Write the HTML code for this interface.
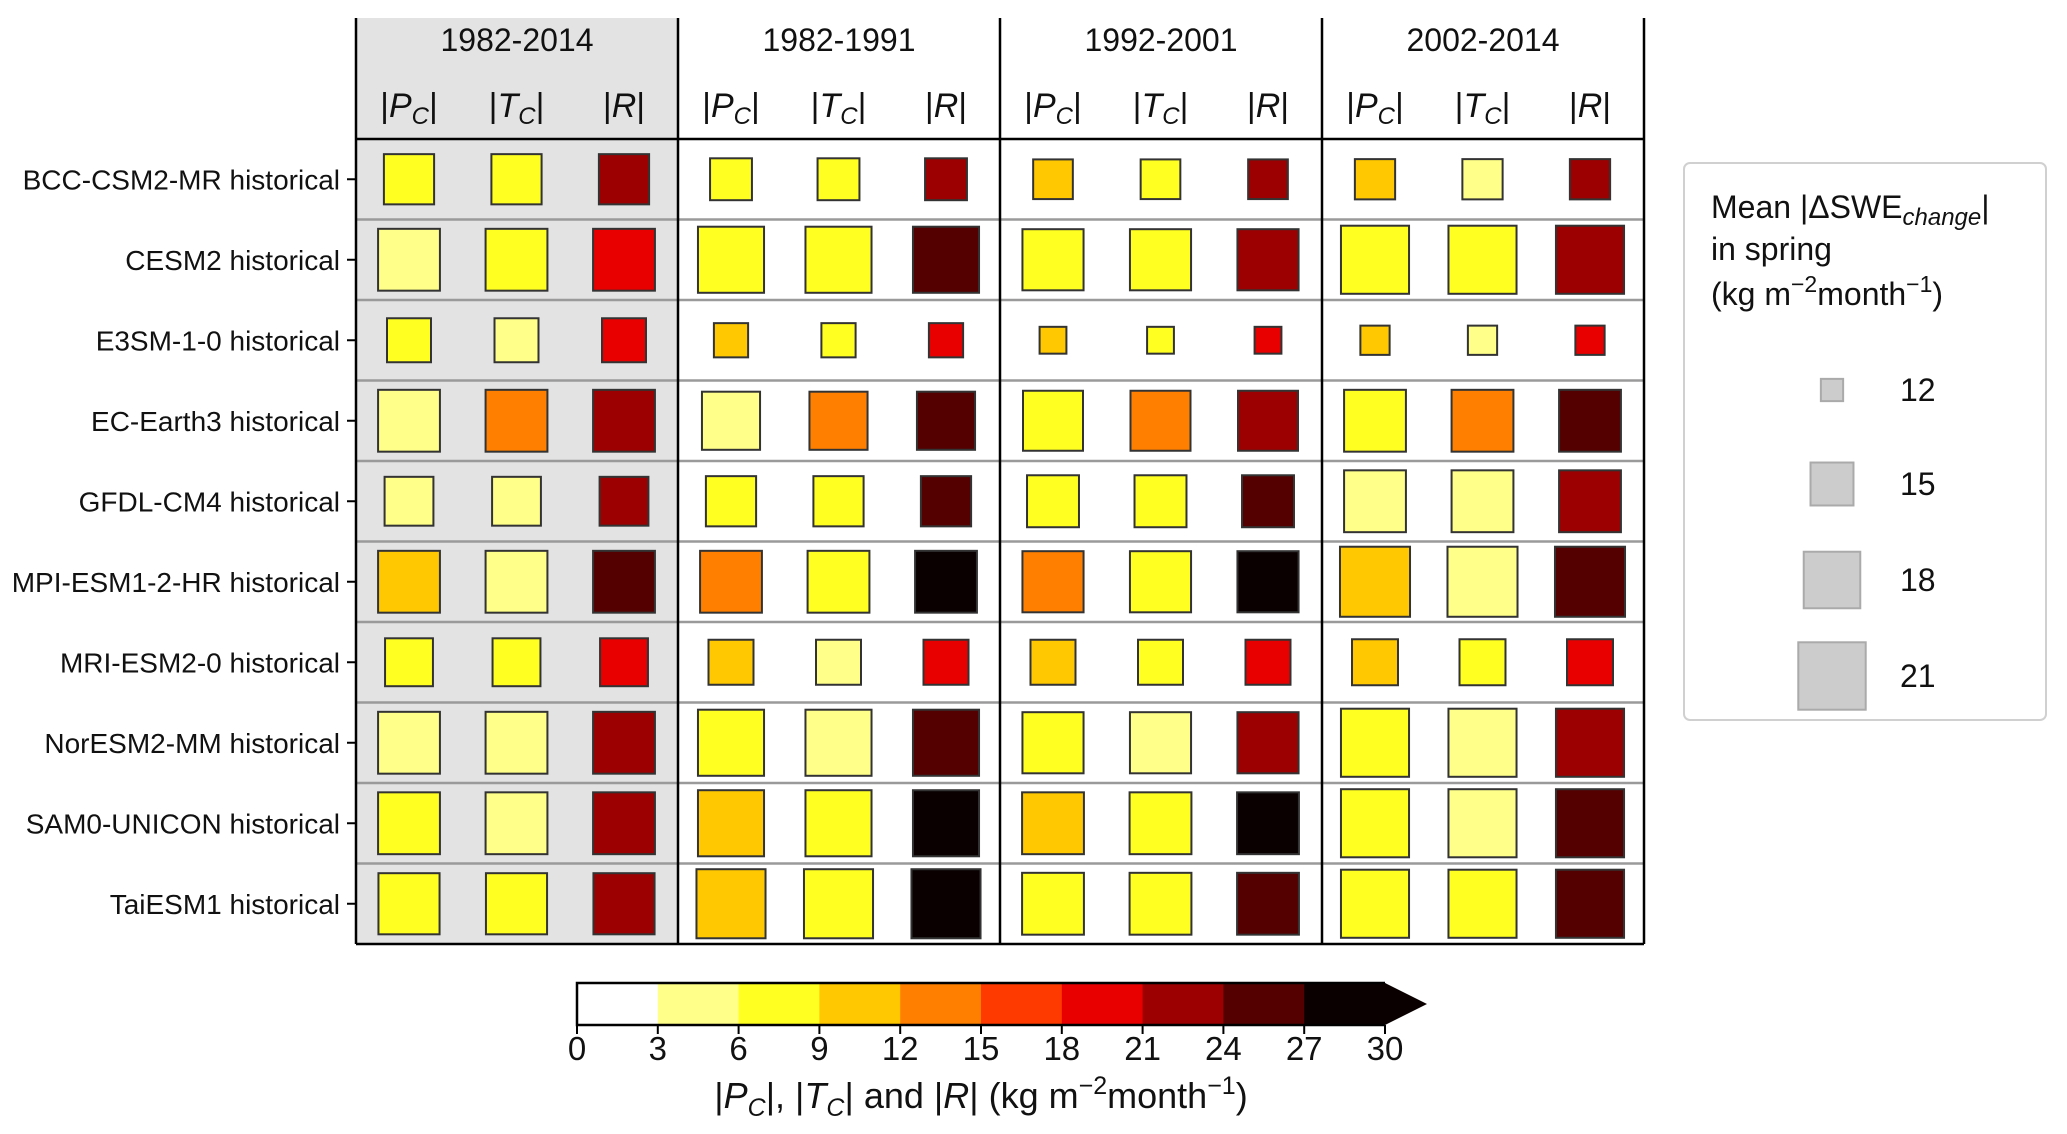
<!DOCTYPE html>
<html><head><meta charset="utf-8"><style>
body{margin:0;background:#fff;}
svg{display:block;font-family:"Liberation Sans",sans-serif;}
</style></head><body>
<svg id="chart" width="2067" height="1134" viewBox="0 0 2067 1134" xmlns="http://www.w3.org/2000/svg"></svg>
<script>
const models=["BCC-CSM2-MR historical","CESM2 historical","E3SM-1-0 historical","EC-Earth3 historical","GFDL-CM4 historical","MPI-ESM1-2-HR historical","MRI-ESM2-0 historical","NorESM2-MM historical","SAM0-UNICON historical","TaiESM1 historical"];
const periods=["1982-2014","1982-1991","1992-2001","2002-2014"];
const sizeP0=[16.5,19.4,15.2,19.4,16.2,19.4,16.0,19.4,19.4,19.2];
const sizeP1=[14.8,20.6,13.5,18.4,16.5,19.4,15.4,20.6,20.6,21.5];
const sizeP2=[14.4,19.2,12.5,18.9,16.9,19.2,15.4,19.2,19.4,19.4];
const sizeP3=[14.5,21.2,12.8,19.4,19.4,21.8,15.6,21.2,21.2,21.2];
const pcP0=[7.5,4.5,7.5,4.5,4.5,10.5,7.5,4.5,7.5,7.5];
const tcP0=[7.5,7.5,4.5,13.5,4.5,4.5,7.5,4.5,4.5,7.5];
const rP0=[22.5,19.5,19.5,22.5,22.5,25.5,19.5,22.5,22.5,22.5];
const pcP1=[7.5,7.5,10.5,4.5,7.5,13.5,10.5,7.5,10.5,10.5];
const tcP1=[7.5,7.5,7.5,13.5,7.5,7.5,4.5,4.5,7.5,7.5];
const rP1=[22.5,25.5,19.5,25.5,25.5,28.5,19.5,25.5,28.5,28.5];
const pcP2=[10.5,7.5,10.5,7.5,7.5,13.5,10.5,7.5,10.5,7.5];
const tcP2=[7.5,7.5,7.5,13.5,7.5,7.5,7.5,4.5,7.5,7.5];
const rP2=[22.5,22.5,19.5,22.5,25.5,28.5,19.5,22.5,28.5,25.5];
const pcP3=[10.5,7.5,10.5,7.5,4.5,10.5,10.5,7.5,7.5,7.5];
const tcP3=[4.5,7.5,4.5,13.5,4.5,4.5,7.5,4.5,4.5,7.5];
const rP3=[22.5,22.5,19.5,25.5,22.5,25.5,19.5,22.5,25.5,25.5];
const legendValues=[12,15,18,21];
const cbTicks=[0,3,6,9,12,15,18,21,24,27,30];
const cbColors=["#ffffff","#ffff8a","#ffff22","#ffc800","#ff8000","#ff3a00","#e80000","#9c0000","#540000","#0a0000"];

const sizes=[sizeP0,sizeP1,sizeP2,sizeP3];
const vals=[[pcP0,tcP0,rP0],[pcP1,tcP1,rP1],[pcP2,tcP2,rP2],[pcP3,tcP3,rP3]];
const NS="http://www.w3.org/2000/svg";
const svg=document.getElementById('chart');
function mk(tag,attrs,parent){const e=document.createElementNS(NS,tag);for(const k in attrs)e.setAttribute(k,attrs[k]);(parent||svg).appendChild(e);return e;}
const L=356,GW=322,T=18,HB=139,RH=80.5;
const xGroup=g=>L+g*GW;
const xCell=(g,c)=>xGroup(g)+53+c*107.5;
const yRow=r=>HB+r*RH+RH/2;
const side=v=>Math.sqrt(Math.max(0,450*(v-10.9)));
const colorOf=v=>cbColors[Math.min(cbColors.length-1,Math.max(0,Math.floor(v/3)))];
const bottom=HB+models.length*RH;

let bg=mk('rect',{x:L,y:T,width:GW,height:bottom-T,fill:'#e3e3e3'});


for(let r=1;r<models.length;r++){
  let ln=mk('line',{x1:L,x2:L+4*GW,y1:HB+r*RH,y2:HB+r*RH,stroke:'#9a9a9a','stroke-width':2.5});
  
  
}
const subs=[['P','C'],['T','C'],['R','']];
for(let g=0;g<4;g++){
  let t=mk('text',{x:xGroup(g)+GW/2,y:51,'text-anchor':'middle','font-size':32,fill:'#111'});
  t.textContent=periods[g];
  
  
  for(let c=0;c<3;c++){
    let h=mk('text',{x:xCell(g,c),y:117,'text-anchor':'middle','font-size':34,fill:'#111'});
    
    
    let a=mk('tspan',{},h);a.textContent='|';
    let b=mk('tspan',{'font-style':'italic'},h);b.textContent=subs[c][0];
    if(subs[c][1]){let s=mk('tspan',{'font-style':'italic','font-size':24,dy:7},h);s.textContent=subs[c][1];let e=mk('tspan',{dy:-7},h);e.textContent='|';}
    else{let e=mk('tspan',{},h);e.textContent='|';}
  }
}
for(let g=0;g<4;g++)for(let r=0;r<models.length;r++)for(let c=0;c<3;c++){
  const s=side(sizes[g][r]);
  let q=mk('rect',{x:xCell(g,c)-s/2,y:yRow(r)-s/2,width:s,height:s,fill:colorOf(vals[g][c][r]),stroke:'#333','stroke-width':2});
  
  
}
for(let g=0;g<=4;g++){
  let v=mk('line',{x1:xGroup(g),x2:xGroup(g),y1:T,y2:bottom,stroke:'#000','stroke-width':2.5});
  
  
}
let hl=mk('line',{x1:L,x2:L+4*GW,y1:HB,y2:HB,stroke:'#000','stroke-width':2.5});


let bl=mk('line',{x1:L,x2:L+4*GW,y1:bottom,y2:bottom,stroke:'#000','stroke-width':2.5});


for(let r=0;r<models.length;r++){
  let tk=mk('line',{x1:L-9,x2:L,y1:yRow(r),y2:yRow(r),stroke:'#000','stroke-width':2});
  
  
  let t=mk('text',{x:L-16,y:yRow(r)+10,'text-anchor':'end','font-size':28,fill:'#111'});
  t.textContent=models[r];
  
  
}
let lg=mk('rect',{x:1684,y:163,width:362,height:557,rx:6,fill:'#fff',stroke:'#d0d0d0','stroke-width':2});


let lt1=mk('text',{x:1711,y:218,'font-size':32,fill:'#111'});


lt1.innerHTML='Mean |ΔSWE<tspan font-style="italic" font-size="24" dy="7">change</tspan><tspan dy="-7">|</tspan>';
let lt2=mk('text',{x:1711,y:260,'font-size':32,fill:'#111'});lt2.textContent='in spring';


let lt3=mk('text',{x:1711,y:305,'font-size':32,fill:'#111'});


lt3.innerHTML='(kg m<tspan font-size="23" dy="-13">−2</tspan><tspan dy="13">month</tspan><tspan font-size="23" dy="-13">−1</tspan><tspan dy="13">)</tspan>';
const legY=[390,484,580,676];
legendValues.forEach((v,i)=>{
  const s=side(v);
  let q=mk('rect',{x:1832-s/2,y:legY[i]-s/2,width:s,height:s,fill:'#cccccc',stroke:'#aaa','stroke-width':2});
  
  
  let t=mk('text',{x:1900,y:legY[i]+11,'font-size':32,fill:'#111'});t.textContent=v;
  
  
});
const cbL=577,cbR=1385,cbT=983,cbB=1025;
const cbX=v=>cbL+(v/30)*(cbR-cbL);
for(let i=0;i<cbColors.length;i++){
  let s=mk('rect',{x:cbX(cbTicks[i]),y:cbT,width:cbX(cbTicks[i+1])-cbX(cbTicks[i])+0.5,height:cbB-cbT,fill:cbColors[i]});
  
  
}
let ar=mk('polygon',{points:`${cbR},${cbT} ${cbR+42},${(cbT+cbB)/2} ${cbR},${cbB}`,fill:'#0a0000'});


let ob=mk('path',{d:`M${cbR},${cbT} L${cbL},${cbT} L${cbL},${cbB} L${cbR},${cbB}`,fill:'none',stroke:'#000','stroke-width':2.5});


cbTicks.forEach(v=>{
  let tk=mk('line',{x1:cbX(v),x2:cbX(v),y1:cbB,y2:cbB+9,stroke:'#000','stroke-width':2});
  
  
  let t=mk('text',{x:cbX(v),y:1060,'text-anchor':'middle','font-size':33,fill:'#111'});t.textContent=v;
  
  
});
let cl=mk('text',{x:(cbL+cbR)/2,y:1108,'text-anchor':'middle','font-size':36,fill:'#111'});


cl.innerHTML='|<tspan font-style="italic">P</tspan><tspan font-style="italic" font-size="25" dy="8">C</tspan><tspan dy="-8">|, |</tspan><tspan font-style="italic">T</tspan><tspan font-style="italic" font-size="25" dy="8">C</tspan><tspan dy="-8">| and |</tspan><tspan font-style="italic">R</tspan><tspan>| (kg m</tspan><tspan font-size="25" dy="-14">−2</tspan><tspan dy="14">month</tspan><tspan font-size="25" dy="-14">−1</tspan><tspan dy="14">)</tspan>';
</script>
</body></html>
